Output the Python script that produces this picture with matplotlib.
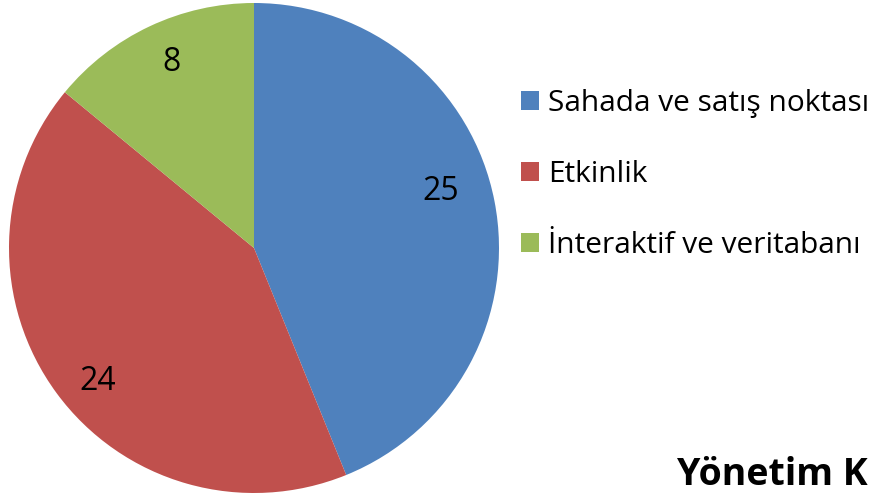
import matplotlib
matplotlib.use("Agg")
import matplotlib.pyplot as plt

categories = ["Sahada ve satış noktası", "Etkinlik", "İnteraktif ve veritabanı"]
values = [25, 24, 8]
colors = ["#4F81BD", "#C0504D", "#9BBB59"]

plt.rcParams['font.family'] = ['Open Sans', 'DejaVu Sans']

W, H = 876, 495
fig = plt.figure(figsize=(W / 100, H / 100), dpi=100)
cx, cy, r = 254, 248, 245
ax = fig.add_axes([(cx - r) / W, (H - cy - r) / H, 2 * r / W, 2 * r / H])

wedges, texts, autotexts = ax.pie(
    values, colors=colors, startangle=90, counterclock=False,
    autopct=lambda p: f"{round(p * sum(values) / 100):d}", pctdistance=0.81,
    textprops=dict(fontsize=23, color="black"),
    wedgeprops=dict(linewidth=0))
# nudge labels as placed in the reference
nudges = [(-0.035, 0.075), (0.015, -0.065), (0.01, 0.025)]
for t, (dx, dy) in zip(autotexts, nudges):
    x0, y0 = t.get_position()
    t.set_position((x0 + dx, y0 + dy))
ax.set_xlim(-1, 1)
ax.set_ylim(-1, 1)
ax.set_aspect('equal')
ax.axis('off')

fs = 21.5
leg = fig.legend(wedges, categories, loc='upper left',
                 bbox_to_anchor=(521 / W, 1 - 89 / H),
                 frameon=False, fontsize=fs, labelspacing=1.4,
                 handlelength=0.6, handleheight=0.6, handletextpad=0.3,
                 borderaxespad=0, borderpad=0)

fig.text(677 / W, 10 / H, "Yönetim K", fontsize=27, fontweight='bold',
         ha='left', va='baseline')

fig.savefig("out.png", dpi=100)
